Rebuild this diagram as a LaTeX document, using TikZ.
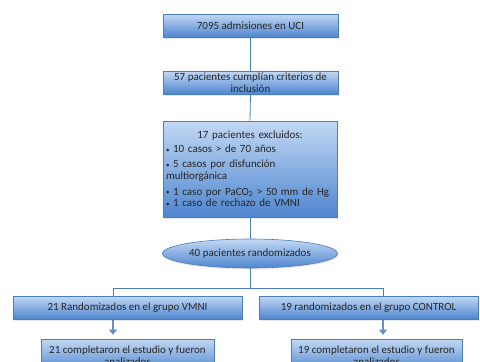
\documentclass[tikz,border=0pt]{standalone}
\usepackage{fontspec}
\setmainfont{Carlito}
\usetikzlibrary{arrows.meta,shapes.geometric,shadows}
\definecolor{boxtop}{HTML}{C2D8F4}
\definecolor{boxbot}{HTML}{4F86CF}
\definecolor{boxline}{HTML}{4A7EBB}
\newcommand{\blt}{{\fontsize{7}{7}\selectfont\raisebox{0.6pt}{•}}\ }

\begin{document}
\begin{tikzpicture}[
    x=1pt,
    y=-1pt,
    every node/.style={font=\fontsize{11}{11.5}\selectfont, text=black!85},
    stagebox/.style={draw=boxline, line width=0.6pt, top color=boxtop,
      bottom color=boxbot, inner xsep=3pt, inner ysep=1pt,
      drop shadow={opacity=0.18, shadow xshift=0.8pt, shadow yshift=-1.5pt}},
    randell/.style={stagebox, ellipse, inner sep=0pt},
    link/.style={draw=boxline, line width=0.8pt},
    downarrow/.style={-{Triangle[width=8pt,length=5pt]}, draw=boxline!85,
      line width=2.6pt, shorten >=4pt, shorten <=1pt}
  ]
    \useasboundingbox (0,0) rectangle (480,362);

    % Screening.
    \node[stagebox, minimum width=175pt, minimum height=23pt] (adm) at (250.5,25.5)
      {7095 admisiones en UCI};
    \node[stagebox, align=center, minimum width=175pt, minimum height=23pt] (incl) at (250.5,82.5)
      {57 pacientes cumplían criterios de\\inclusión};
    \node[stagebox, align=left, text width=168pt, minimum height=96pt] (excl) at (250,169)
      {\makebox[\linewidth]{17 pacientes excluidos:}\\[2.5pt]
       \blt 10 casos > de 70 años\\[3.5pt]
       \blt 5 casos por disfunción\\
       multiorgánica\\[4.5pt]
       \blt 1 caso por PaCO\textsubscript{2} > 50 mm de Hg\\
       \blt 1 caso de rechazo de VMNI};
    \node[randell, minimum width=175pt, minimum height=29pt] (rand) at (250,253.5)
      {40 pacientes randomizados};

    % Groups.
    \node[stagebox, minimum width=229pt, minimum height=23pt] (vmni) at (127.5,307.5)
      {21 Randomizados en el grupo VMNI};
    \node[stagebox, minimum width=219pt, minimum height=23pt] (ctrl) at (368.5,307.5)
      {19 randomizados en el grupo CONTROL};
    \node[stagebox, align=center, minimum width=173pt, minimum height=33pt] (vmnidone) at (127.5,355.5)
      {21 completaron el estudio y fueron\\analizados};
    \node[stagebox, align=center, minimum width=171pt, minimum height=33pt] (ctrldone) at (376.5,355.5)
      {19 completaron el estudio y fueron\\analizados};

    % Connectors.
    \coordinate (split) at (250,288);
    \coordinate (lbranch) at (113,288);
    \coordinate (rbranch) at (383,288);
    \draw[link] (adm.south) -- (incl.north);
    \draw[link] (incl.south) -- (excl.north);
    \draw[link] (excl.south) -- (rand.north);
    \draw[link] (rand.south) -- (split);
    \draw[link] (lbranch |- vmni.north) -- (lbranch) -- (rbranch) -- (rbranch |- ctrl.north);
    \draw[downarrow] (lbranch |- vmni.south) -- (lbranch |- vmnidone.north);
    \draw[downarrow] (rbranch |- ctrl.south) -- (rbranch |- ctrldone.north);
  \end{tikzpicture}
\end{document}
